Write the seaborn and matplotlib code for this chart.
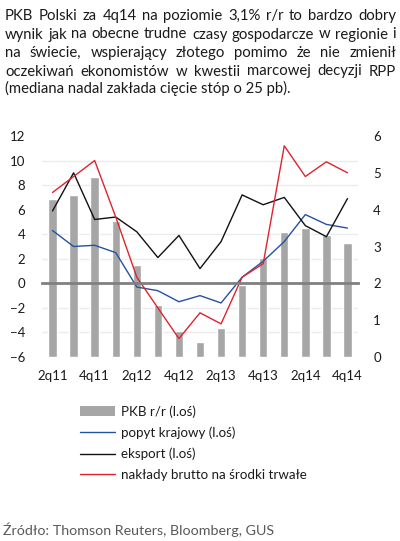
import numpy as np
import pandas as pd
import seaborn as sns
import matplotlib.pyplot as plt
from matplotlib.patches import Patch
from matplotlib.lines import Line2D

quarters = ['2q11', '3q11', '4q11', '1q12', '2q12', '3q12', '4q12', '1q13',
            '2q13', '3q13', '4q13', '1q14', '2q14', '3q14', '4q14']
pkb = [4.3, 4.4, 4.9, 3.7, 2.5, 1.4, 0.7, 0.4, 0.8, 1.95, 2.7, 3.4, 3.5, 3.3, 3.1]
popyt = [4.3, 3.0, 3.1, 2.5, -0.3, -0.6, -1.5, -1.0, -1.6, 0.5, 1.8, 3.4, 5.6, 4.8, 4.5]
eksport = [5.9, 9.0, 5.2, 5.4, 4.2, 2.1, 3.9, 1.2, 3.4, 7.2, 6.4, 7.0, 4.7, 3.8, 6.9]
naklady = [7.4, 8.7, 10.0, 5.4, 0.5, -2.0, -4.5, -2.4, -3.3, 0.5, 1.6, 11.2, 8.7, 9.9, 9.0]

left_ticks = list(range(-6, 13, 2))
right_ticks = list(range(0, 7))
shown_quarters = quarters[::2]

title_lines = [
    'PKB Polski za 4q14 na poziomie 3,1% r/r to bardzo dobry',
    'wynik jak na obecne trudne czasy gospodarcze w regionie i',
    'na świecie, wspierający złotego pomimo że nie zmienił',
    'oczekiwań ekonomistów w kwestii marcowej decyzji RPP',
    '(mediana nadal zakłada cięcie stóp o 25 pb).',
]
legend_labels = ['PKB r/r (l.oś)', 'popyt krajowy (l.oś)', 'eksport (l.oś)',
                 'nakłady brutto na środki trwałe']
source = 'Źródło: Thomson Reuters, Bloomberg, GUS'

sns.set_theme(style='white')
plt.rcParams['font.family'] = ['Lato', 'DejaVu Sans']

W, H = 400, 541
fig = plt.figure(figsize=(W / 100, H / 100), dpi=100)
ax = fig.add_axes([42 / W, 1 - 357 / H, 316 / W, 221 / H])

df = pd.DataFrame({'q': quarters, 'pkb': pkb, 'popyt': popyt,
                   'eksport': eksport, 'naklady': naklady, 'i': np.arange(len(quarters))})

# bars sit on the right-hand axis (0..6)
sns.barplot(data=df, x='q', y='pkb', color='#a6a6a6', saturation=1, width=0.4, ax=ax)

# lines on the left-hand axis (-6..12)
ax2 = ax.twinx()
sns.lineplot(data=df, x='i', y='popyt', color='#24529f', lw=1.0, ax=ax2)
sns.lineplot(data=df, x='i', y='eksport', color='#111111', lw=1.0, ax=ax2)
sns.lineplot(data=df, x='i', y='naklady', color='#e0232e', lw=1.0, ax=ax2)

# twinx flips tick sides, so set them afterwards
ax.yaxis.tick_right()
ax2.yaxis.tick_left()

ax.set_ylim(0, 6)
ax.set_xlim(-0.5, len(quarters) - 0.5)
ax.set_yticks(right_ticks)
ax.set_yticks(np.linspace(0, 6, len(left_ticks)), minor=True)
ax.grid(which='minor', axis='y', color='#ebebeb', linewidth=1)
ax.grid(which='major', axis='both', visible=False)
ax.set_xticks(range(0, len(quarters), 2))
ax.set_xticklabels(shown_quarters)
ax.tick_params(axis='x', which='both', length=0, pad=9, labelsize=9.5, colors='#1a1a1a')
ax.tick_params(axis='y', which='both', length=0, pad=11, labelsize=9.5, colors='#1a1a1a',
               labelright=True, labelleft=False, left=False)
ax.set_xlabel('')
ax.set_ylabel('')
for s in ax.spines.values():
    s.set_visible(False)

ax2.set_ylim(-6, 12)
ax2.set_yticks(left_ticks)
ax2.set_xlim(-0.5, len(quarters) - 0.5)
ax2.set_xticks(np.arange(-0.5, len(quarters), 1), minor=True)
ax2.tick_params(axis='y', length=0, pad=12, labelsize=9.5, colors='#1a1a1a',
                labelleft=True, labelright=False, right=False)
ax2.tick_params(axis='x', which='major', length=0, labelbottom=False)
ax2.tick_params(axis='x', which='minor', length=4, width=1, color='#808080',
                direction='out', bottom=True, labelbottom=False)
ax2.set_xlabel('')
ax2.set_ylabel('')
for k in ['top', 'left', 'right']:
    ax2.spines[k].set_visible(False)
ax2.spines['bottom'].set_position(('data', 0))
ax2.spines['bottom'].set_color('#808080')
ax2.spines['bottom'].set_linewidth(2)
ax2.spines['bottom'].set_visible(True)
ax2.grid(False)

# justified title text, word by word
r = fig.canvas.get_renderer()
x0, x1 = 5, 396
baselines = [20, 38.5, 57, 75.5, 93.5]
for n, (line, yb) in enumerate(zip(title_lines, baselines)):
    kw = dict(fontsize=10.7, color='#1a1a1a', va='baseline', ha='left')
    if n == len(title_lines) - 1:
        fig.text(x0 / W, 1 - yb / H, line, **kw)
        continue
    words = line.split(' ')
    texts = [fig.text(0, 1 - yb / H, w, **kw) for w in words]
    widths = [t.get_window_extent(r).width for t in texts]
    gap = (x1 - x0 - sum(widths)) / (len(words) - 1)
    x = x0
    for t, w in zip(texts, widths):
        t.set_x(x / W)
        x += w + gap

handles = [Patch(facecolor='#a6a6a6', edgecolor='none'),
           Line2D([], [], color='#24529f', lw=1.0),
           Line2D([], [], color='#111111', lw=1.0),
           Line2D([], [], color='#e0232e', lw=1.0)]
fig.legend(handles, legend_labels, loc='upper left', bbox_to_anchor=(80 / W, 1 - 405 / H),
           frameon=False, fontsize=9.6, handlelength=2.6, handletextpad=0.45,
           labelspacing=0.66, borderaxespad=0, borderpad=0, labelcolor='#1a1a1a')

fig.text(3 / W, 1 - 535 / H, source, fontsize=10.3, color='#595959', va='baseline', ha='left')

fig.savefig('out.png', dpi=100)
